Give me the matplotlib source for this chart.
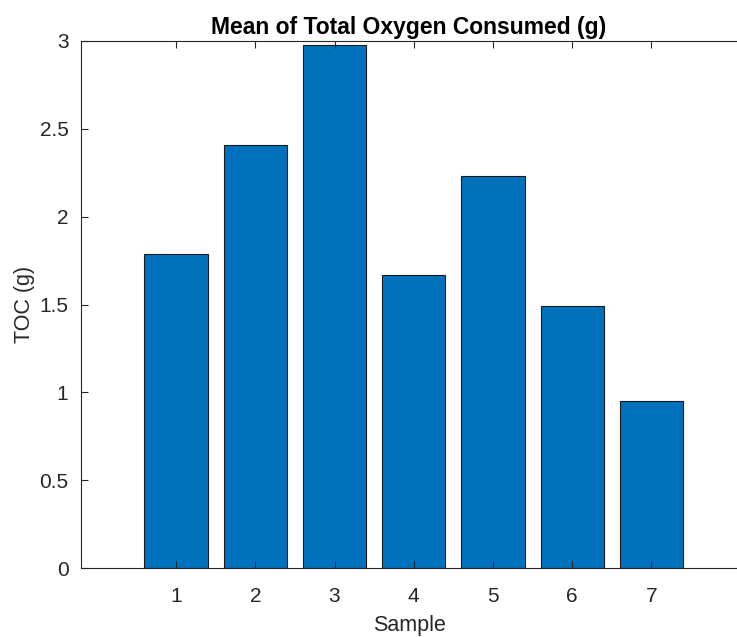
import matplotlib
matplotlib.use('Agg')
import matplotlib.pyplot as plt

samples = [1, 2, 3, 4, 5, 6, 7]
toc_mean = [1.79, 2.41, 2.98, 1.67, 2.23, 1.49, 0.95]
yticks = [0, 0.5, 1, 1.5, 2, 2.5, 3]
yticklabels = ['0', '0.5', '1', '1.5', '2', '2.5', '3']

plt.rcParams['font.family'] = ['Liberation Sans', 'DejaVu Sans']
txt = '#262626'

fig = plt.figure(figsize=(7.37, 6.37), dpi=100)
ax = fig.add_axes([81/737, 1-568/637, 1-81/737, (568-41)/637])

ax.bar(samples, toc_mean, width=0.8, color='#0072BD', edgecolor='#1a1a1a', linewidth=0.8, zorder=2)
ax.set_axisbelow(False)

ax.set_xlim(-0.2, 8.08)
ax.set_ylim(0, 3)
ax.set_xticks(samples)
ax.set_yticks(yticks)
ax.set_yticklabels(yticklabels)
ax.tick_params(direction='in', length=5, width=0.8, colors=txt, labelsize=15,
               top=True, right=False)
ax.tick_params(axis='x', pad=14)
ax.tick_params(axis='y', pad=9)
for s in ['left', 'bottom', 'top']:
    ax.spines[s].set_color(txt)
    ax.spines[s].set_linewidth(0.8)
ax.spines['right'].set_visible(False)

ax.set_xlabel('Sample', fontsize=15.5, color=txt)
ax.set_ylabel('TOC (g)', fontsize=15.5, color=txt)
ax.xaxis.set_label_coords(0.5, -0.09)
ax.yaxis.set_label_coords(-0.07, 0.5)
ax.set_title('Mean of Total Oxygen Consumed (g)', fontsize=16.5, fontweight='bold', color='black', pad=5)

fig.savefig('out.png', dpi=100)
